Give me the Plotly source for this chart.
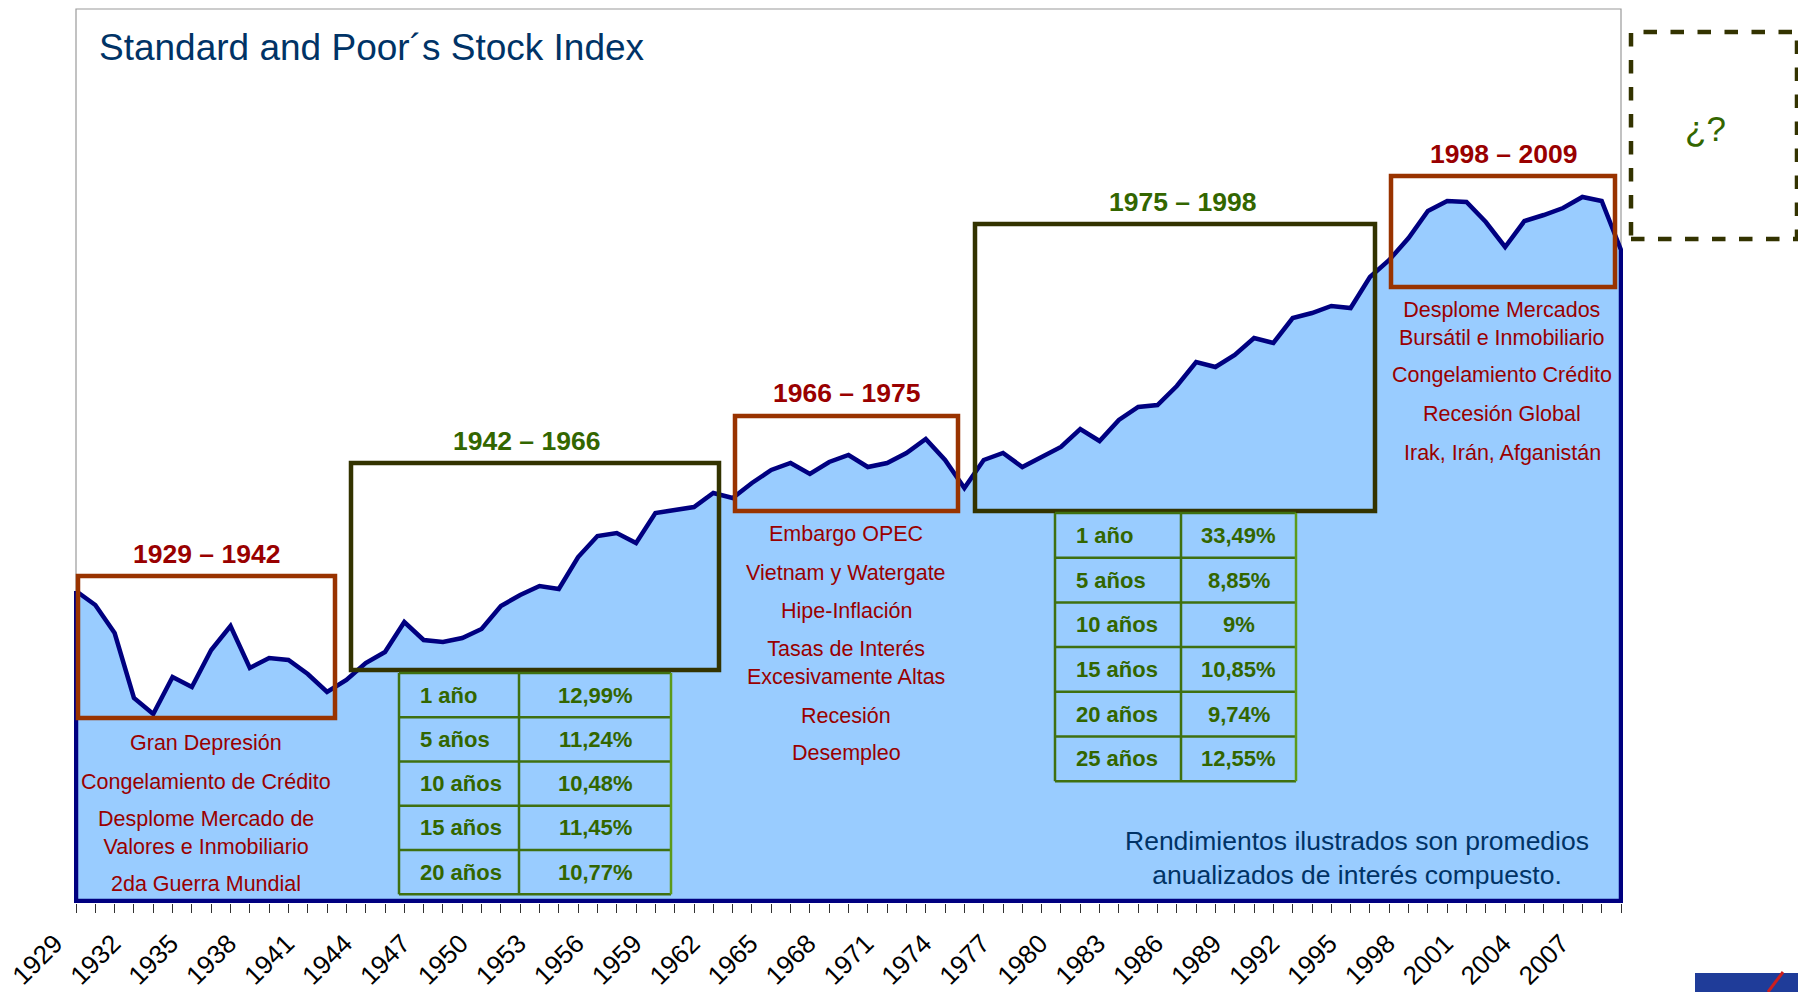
import plotly.graph_objects as go

# S&P index, annual points (height above baseline, arbitrary units)
years = list(range(1929, 2010))
index_level = [310, 296, 268, 203, 187, 224, 214, 251, 275, 233,
               243, 241, 227, 209, 221, 238, 249, 279, 261, 259,
               263, 272, 295, 306, 315, 312, 344, 365, 368, 358,
               388, 391, 394, 408, 403, 418, 431, 438, 427, 439,
               446, 434, 438, 448, 462, 441, 413, 441, 448, 434,
               444, 454, 472, 460, 481, 494, 496, 515, 539, 534,
               546, 563, 558, 583, 588, 595, 593, 624, 641, 663,
               690, 700, 699, 679, 654, 680, 686, 693, 704, 700, 651]

tick_years = years[::3]

period_labels = ["1929 – 1942", "1942 – 1966", "1966 – 1975", "1975 – 1998", "1998 – 2009"]

events_1929 = ["Gran Depresión", "Congelamiento de Crédito",
               "Desplome Mercado de<br>Valores e Inmobiliario", "2da Guerra Mundial"]
events_1966 = ["Embargo OPEC", "Vietnam y Watergate", "Hipe-Inflación",
               "Tasas de Interés<br>Excesivamente Altas", "Recesión", "Desempleo"]
events_1998 = ["Desplome Mercados<br>Bursátil e Inmobiliario", "Congelamiento Crédito",
               "Recesión Global", "Irak, Irán, Afganistán"]

periods_1942 = ["1 año", "5 años", "10 años", "15 años", "20 años"]
returns_1942 = ["12,99%", "11,24%", "10,48%", "11,45%", "10,77%"]
periods_1975 = ["1 año", "5 años", "10 años", "15 años", "20 años", "25 años"]
returns_1975 = ["33,49%", "8,85%", "9%", "10,85%", "9,74%", "12,55%"]

W, H = 1798, 992
ML, MR, MT, MB = 74, 175, 9, 89
PW, PH = W - ML - MR, H - MT - MB

FONT = "Liberation Sans, Arial, sans-serif"
RED = "#990000"
GREEN = "#336600"
BROWN = "#993300"
OLIVE = "#333300"
NAVY = "#000080"
TITLE_BLUE = "#003366"


def px(x):
    return (x - ML) / PW


def py(y):
    return (H - MB - y) / PH


shapes = []
annotations = []


def box(x0, y0, x1, y1, color, width=4.5, dash=None):
    shapes.append(dict(type="rect", xref="paper", yref="paper",
                       x0=px(x0), x1=px(x1), y0=py(y1), y1=py(y0),
                       line=dict(color=color, width=width, dash=dash)))


def line(x0, y0, x1, y1, color, width):
    shapes.append(dict(type="line", xref="paper", yref="paper",
                       x0=px(x0), x1=px(x1), y0=py(y0), y1=py(y1),
                       line=dict(color=color, width=width)))


def text(x, y, s, color, size, bold=False, align="center"):
    annotations.append(dict(xref="paper", yref="paper", x=px(x), y=py(y),
                            text=s, showarrow=False, xanchor=align, yanchor="middle",
                            align="center",
                            font=dict(family=FONT, size=size, color=color,
                                      weight="bold" if bold else "normal")))


def table(x0, xm, x1, top, row_h, left_col, right_col):
    n = len(left_col)
    tc = "#3f7010"
    for i in range(n + 1):
        line(x0, top + i * row_h, x1, top + i * row_h, tc, 2.5)
    line(x0, top, x0, top + n * row_h, tc, 2.5)
    line(xm, top, xm, top + n * row_h, tc, 2.5)
    line(x1, top, x1, top + n * row_h, "#5c9a1a", 2.5)
    for i, (a, b) in enumerate(zip(left_col, right_col)):
        cy = top + (i + 0.5) * row_h
        text(x0 + 19, cy, a, GREEN, 22, bold=True, align="left")
        text((xm + x1) / 2, cy, b, GREEN, 22, bold=True)


# outer frame of the chart area
shapes.append(dict(type="rect", xref="paper", yref="paper", x0=px(76), x1=px(1621),
                   y0=py(901), y1=py(9), line=dict(color="#9a9a9a", width=1.2), layer="below"))

# period boxes and labels
box(78, 576, 335, 718, BROWN)
box(351, 463, 719, 670, OLIVE)
box(735, 416, 958, 511, BROWN)
box(975, 224, 1375, 511, OLIVE)
box(1391, 176, 1615, 287, BROWN)
box(1631, 32, 1797, 239, OLIVE, width=4.5, dash="dash")

label_pos = [(206, 554, RED), (526, 441, GREEN), (846, 393, RED), (1182, 202, GREEN), (1503, 154, RED)]
for lab, (x, y, c) in zip(period_labels, label_pos):
    text(x, y, lab, c, 26.5, bold=True)

text(1705, 128, "¿?", GREEN, 35)

# event notes
for s, y in zip(events_1929, [743, 782, 833, 884]):
    text(206, y, s, RED, 21.5)
for s, y in zip(events_1966, [534, 573, 611, 663, 716, 753]):
    text(846, y, s, RED, 21.5)
for s, y in zip(events_1998, [324, 375, 414, 453]):
    text(1502, y, s, RED, 21.5)

# return tables
table(399, 519, 671, 673, 44.26, periods_1942, returns_1942)
table(1055, 1181, 1296, 513, 44.7, periods_1975, returns_1975)

text(1357, 858, "Rendimientos ilustrados son promedios<br>anualizados de interés compuesto.",
     TITLE_BLUE, 26.5)

text(97, 48, "Standard and Poor´s Stock Index", TITLE_BLUE, 37, align="left")

# cropped logo in the corner
shapes.append(dict(type="rect", xref="paper", yref="paper", x0=px(1695), x1=px(1798),
                   y0=py(992), y1=py(973), line=dict(width=0), fillcolor="#1f3c99"))
line(1768, 992, 1783, 972, "#cc1f1f", 3)

# closed area: data points, then down to the baseline and back up
xs = years + [years[-1], years[0], years[0]]
ys = index_level + [0, 0, index_level[0]]

fig = go.Figure(go.Scatter(
    x=xs, y=ys, mode="lines", fill="toself", fillcolor="#99CCFF",
    line=dict(color=NAVY, width=4.5), hoverinfo="skip"))

x_pad = 2 / 19.31
fig.update_layout(
    width=W, height=H,
    margin=dict(l=ML, r=MR, t=MT, b=MB, pad=0, autoexpand=False),
    paper_bgcolor="white", plot_bgcolor="white",
    showlegend=False,
    shapes=shapes, annotations=annotations,
    xaxis=dict(range=[years[0] - x_pad, years[-1] + x_pad], automargin=False,
               tickmode="array", tickvals=tick_years, ticktext=[str(y) for y in tick_years],
               ticks="outside", ticklen=9, tickcolor="#333333", tickwidth=1,
               tickangle=-45, tickfont=dict(family=FONT, size=26, color="black"),
               ticklabelstandoff=5, ticklabelshift=-21, ticklabeloverflow="allow",
               minor=dict(dtick=1, tick0=years[0], ticks="outside", ticklen=9,
                          tickcolor="#333333", tickwidth=1, showgrid=False),
               showgrid=False, zeroline=False, showline=False),
    yaxis=dict(range=[-2, PH - 2], visible=False, automargin=False,
               showgrid=False, zeroline=False),
)

fig.write_html("out.html", config={"displayModeBar": False},
               post_script="document.body.style.margin='0';")
